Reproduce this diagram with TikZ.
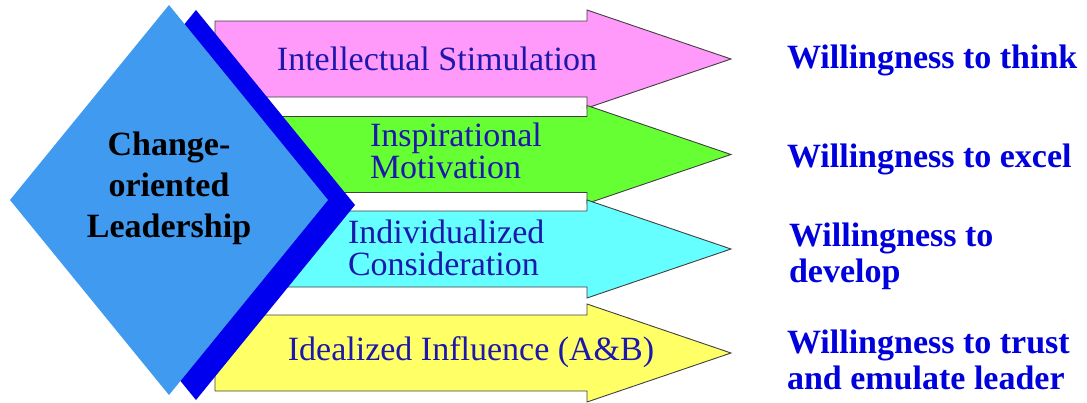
\documentclass[tikz,border=0pt]{standalone}
\usepackage{fontspec}
\setmainfont{Liberation Serif}
\usetikzlibrary{shapes.geometric}

\definecolor{stimfill}{RGB}{255,153,250}
\definecolor{motivfill}{RGB}{102,255,51}
\definecolor{considfill}{RGB}{102,255,255}
\definecolor{inflfill}{RGB}{255,255,102}
\definecolor{leadfill}{RGB}{64,154,240}
\definecolor{leadedge}{RGB}{0,0,238}
\definecolor{dimtext}{RGB}{28,24,172}
\definecolor{willtext}{RGB}{0,0,220}

\begin{document}
\begin{tikzpicture}[x=1pt,y=-1pt]
  \tikzstyle{every node}=[inner sep=0pt,outer sep=0pt]
  \tikzstyle{leader}=[diamond,minimum width=318pt,minimum height=390pt]
  \tikzstyle{dimension}=[text=dimtext,font=\fontsize{34}{32}\selectfont,align=left,anchor=base west]
  \tikzstyle{outcome}=[text=willtext,font=\fontsize{34}{36}\selectfont\bfseries,align=left,anchor=base west]

  \useasboundingbox (0,0) rectangle (1087,402);

  % the four arrows, top to bottom
  \foreach \c/\col in {59/stimfill,154.5/motivfill,249/considfill,353/inflfill}
    \draw[fill=\col,draw=black!75,line width=0.9pt]
      (215,\c-38) -- (587,\c-38) -- (587,\c-49) -- (731,\c)
      -- (587,\c+49) -- (587,\c+38) -- (215,\c+38) -- cycle;

  % diamond with its dark edge behind
  % (multi-line nodes: base is the last line)
  \node[leader,fill=leadedge] (leadshadow) at (196,205) {};
  \node[leader,fill=leadfill]  (lead)       at (169,200) {};
  \node[font=\fontsize{34}{41}\selectfont\bfseries,align=center,anchor=base]
    (leadtext) at (169,237) {Change-\\oriented\\Leadership};

  % labels on the arrows
  \node[dimension,anchor=base] (stim)   at (437,70)  {Intellectual Stimulation};
  \node[dimension]             (motiv)  at (370,178) {Inspirational\\Motivation};
  \node[dimension]             (consid) at (348,275) {Individualized\\Consideration};
  \node[dimension,anchor=base] (infl)   at (471,360) {Idealized Influence (A\&B)};

  % what each one brings out
  \node[outcome] (think)   at (787,68)  {Willingness to think};
  \node[outcome] (excel)   at (787,167) {Willingness to excel};
  \node[outcome] (develop) at (789,282) {Willingness to\\develop};
  \node[outcome] (trust)   at (787,389) {Willingness to trust\\and emulate leader};
\end{tikzpicture}
\end{document}
